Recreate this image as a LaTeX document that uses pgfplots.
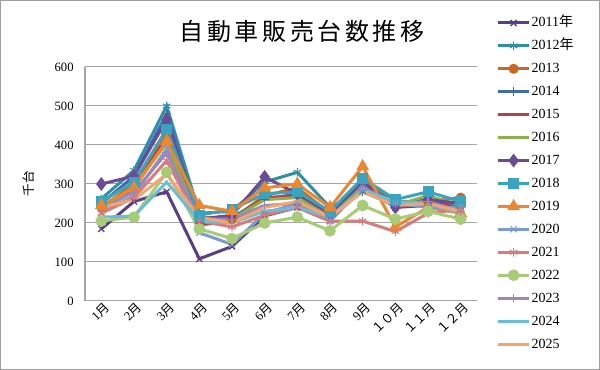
\documentclass[border=0pt]{standalone}
\usepackage{pgfplots}
\usepackage{pgfplotstable}
\pgfplotsset{compat=1.18}
\usepackage{fontspec}
\setmainfont{Liberation Serif}
\newfontfamily\cjk{Noto Sans CJK JP}
\definecolor{c11}{HTML}{5B3F84}
\definecolor{c12}{HTML}{2E8FA6}
\definecolor{c13}{HTML}{C9681F}
\definecolor{c14}{HTML}{3F6CB0}
\definecolor{c15}{HTML}{B84040}
\definecolor{c16}{HTML}{8CB04A}
\definecolor{c17}{HTML}{6B4A96}
\definecolor{c18}{HTML}{3AA3C0}
\definecolor{c19}{HTML}{EE8630}
\definecolor{c20}{HTML}{7D9BD2}
\definecolor{c21}{HTML}{D77C7A}
\definecolor{c22}{HTML}{A8CB78}
\definecolor{c23}{HTML}{9A87BC}
\definecolor{c24}{HTML}{6BBDD6}
\definecolor{c25}{HTML}{F5A470}
\definecolor{gridgray}{HTML}{A6A6A6}
\pgfplotstableread{
m  a11 a12 a13 a14 a15 a16 a17 a18 a19 a20 a21 a22 a23 a24 a25
0  185 262 240 250 235 230 300 255 245 225 225 205 235 215 240
1  255 335 300 320 290 295 320 305 290 270 265 215 280 218 260
2  280 500 430 480 420 405 465 440 410 390 360 330 380 305 325
3  108 225 215 200 195 205 210 220 245 175 205 185 210 205 215
4  140 230 210 215 205 210 220 235 230 145 190 160 210 200 200
5  218 305 270 260 265 260 318 275 290 225 220 200 245 230 240
6  240 330 290 275 270 265 275 280 300 250 240 215 250 240 255
7  205 240 225 220 215 215 225 230 240 205 205 180 210 215 215
8  300 280 310 300 295 300 305 315 345 290 205 245 290 285 280
9  240 245 255 250 240 245 240 260 190 250 178 210 250 255 245
10 245 250 255 260 250 270 260 280 240 240 225 230 255 250 250
11 230 245 265 240 240 245 250 255 225 240 235 210 230 225 230
}\data
\newcommand\m[1]{#1{\cjk 月}}
\begin{document}
\begin{tikzpicture}
\useasboundingbox (0,0) rectangle (450pt,277.5pt);
\draw[color=gray!75, line width=0.75pt] (0.375pt,0.375pt) rectangle (449.625pt,277.125pt);
\node[font=\cjk\fontsize{18}{20}\selectfont] at (226.5pt,254pt) {自\kern2.7pt 動\kern2.7pt 車\kern2.7pt 販\kern2.7pt 売\kern2.7pt 台\kern2.7pt 数\kern2.7pt 推\kern2.7pt 移};
\begin{axis}[
  at={(63.75pt,51.75pt)}, anchor=south west, scale only axis,
  width=294pt, height=175.5pt,
  xmin=-0.5, xmax=11.5, ymin=0, ymax=600,
  ytick={0,100,...,600},
  xtick={0,...,11},
  xticklabels={\m{1},\m{2},\m{3},\m{4},\m{5},\m{6},\m{7},\m{8},\m{9},{\cjk １０月},{\cjk １１月},{\cjk １２月}},
  axis x line*=bottom, axis y line*=left,
  axis line style={draw=gridgray, line width=0.75pt, -},
  ymajorgrids, grid style={gridgray, line width=0.75pt},
  major tick length=0pt,
  /pgf/number format/assume math mode=true,
  tick label style={font=\fontsize{9.5}{11}\selectfont},
  yticklabel style={xshift=-5pt},
  xticklabel style={rotate=45, anchor=east, xshift=2pt, yshift=-5pt, inner sep=1pt},
  ylabel={{\cjk 千台}},
  ylabel shift=8.5pt,
  ylabel style={font=\fontsize{9.5}{11}\selectfont},
  clip=false,
  every axis plot/.append style={line width=2.25pt, mark size=2.6pt},
  legend cell align=left,
  legend style={draw=none, fill=none, at={(1.04,1.235)}, anchor=north west,
    font=\fontsize{10.5}{12}\selectfont, row sep=5.2pt,
    nodes={inner sep=1pt, text height=8pt, text depth=2pt}},
  legend image code/.code={\draw[mark repeat=2,mark phase=2,#1] plot coordinates {(0cm,0cm) (0.4cm,0cm) (0.8cm,0cm)};},
]
\addplot[c11, mark=x, mark options={line width=1pt, mark size=3.2pt}] table[x=m,y=a11]{\data};
\addplot[c12, mark=asterisk, mark options={line width=0.8pt, mark size=3.2pt}] table[x=m,y=a12]{\data};
\addplot[c13, mark=*, mark options={fill=c13}] table[x=m,y=a13]{\data};
\addplot[c14, mark=+, mark options={line width=0.8pt, mark size=3.2pt}] table[x=m,y=a14]{\data};
\addplot[c15, no markers] table[x=m,y=a15]{\data};
\addplot[c16, no markers] table[x=m,y=a16]{\data};
\addplot[c17, mark=diamond*, mark options={fill=c17, mark size=3.4pt}] table[x=m,y=a17]{\data};
\addplot[c18, mark=square*, mark options={fill=c18, mark size=3pt}] table[x=m,y=a18]{\data};
\addplot[c19, mark=triangle*, mark options={fill=c19, mark size=3.4pt}] table[x=m,y=a19]{\data};
\addplot[c20, mark=x, mark options={line width=0.8pt, mark size=3.2pt}] table[x=m,y=a20]{\data};
\addplot[c21, mark=asterisk, mark options={line width=0.8pt, mark size=3.2pt}] table[x=m,y=a21]{\data};
\addplot[c22, mark=*, mark options={fill=c22, mark size=3.2pt}] table[x=m,y=a22]{\data};
\addplot[c23, mark=+, mark options={line width=0.8pt, mark size=3.2pt}] table[x=m,y=a23]{\data};
\addplot[c24, no markers] table[x=m,y=a24]{\data};
\addplot[c25, no markers] table[x=m,y=a25]{\data};
\legend{{2011{\cjk 年}},{2012{\cjk 年}},2013,2014,2015,2016,2017,2018,2019,2020,2021,2022,2023,2024,2025}
\end{axis}
\end{tikzpicture}
\end{document}
